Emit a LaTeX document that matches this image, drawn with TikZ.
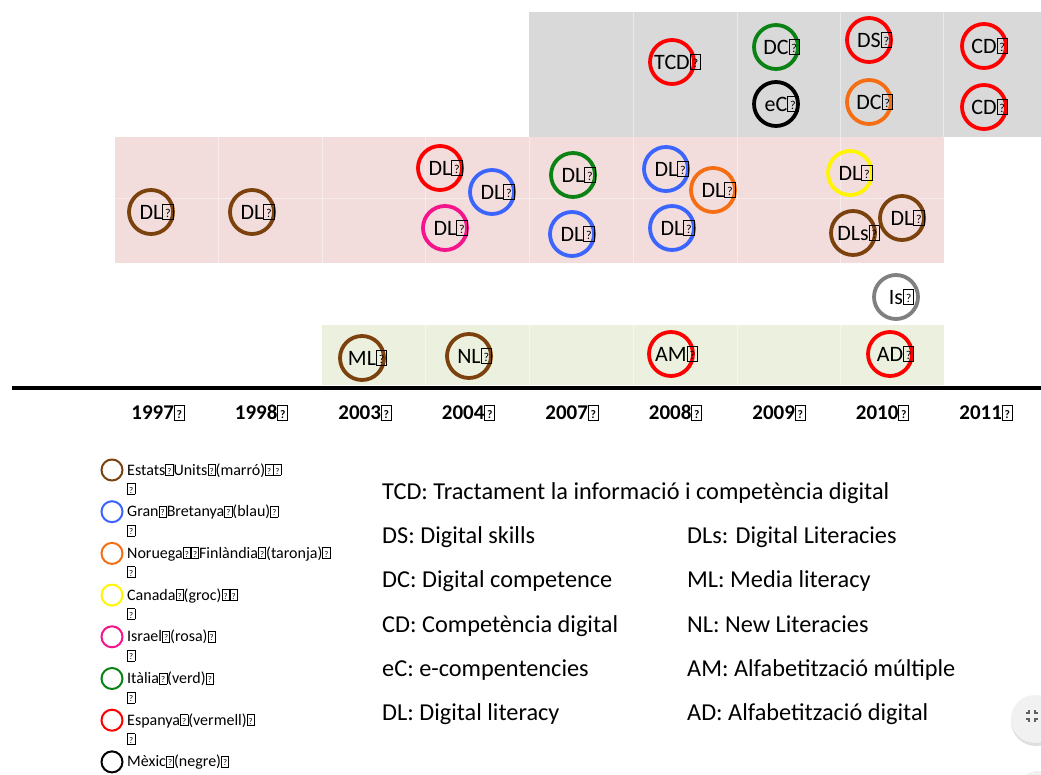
\documentclass[tikz,border=0pt]{standalone}
\usepackage{fontspec}
\setmainfont{Carlito}
\usepackage{graphicx}

% marker colours
\definecolor{cbrown}{RGB}{124,66,14}
\definecolor{cblue}{RGB}{60,100,255}
\definecolor{corange}{RGB}{245,110,20}
\definecolor{cyellow}{RGB}{255,245,0}
\definecolor{cpink}{RGB}{245,20,140}
\definecolor{cgreen}{RGB}{10,130,20}
\definecolor{cred}{RGB}{255,0,0}
\definecolor{cgray}{RGB}{128,128,128}
% band colours
\definecolor{bandgray}{RGB}{217,217,217}
\definecolor{bandpink}{RGB}{242,221,220}
\definecolor{bandgreen}{RGB}{235,241,222}
\definecolor{btnfill}{RGB}{241,241,241}
\definecolor{btnshade}{RGB}{222,222,222}

% small framed "?" glyph placeholder
\newcommand\qb{{\setlength\fboxsep{0pt}\setlength\fboxrule{0.045em}%
  \fbox{\makebox[0.42em]{\rule{0pt}{0.64em}\raisebox{0.06em}{\scalebox{0.55}{?}}}}}}

\tikzset{
  term/.style={circle, draw=#1, line width=3.8pt, minimum size=44pt,
    inner sep=0pt, font=\fontsize{22}{24}\selectfont},
  yearlbl/.style={inner sep=0pt, font=\fontsize{21}{24}\selectfont\bfseries},
  defn/.style={anchor=base west, inner sep=0pt, font=\fontsize{24.3}{28}\selectfont},
  legmark/.style={circle, draw=#1, line width=2pt, minimum size=21pt, inner sep=0pt},
  legtxt/.style={anchor=base west, inner sep=0pt, font=\fontsize{16}{18}\selectfont},
  gridline/.style={white, opacity=0.45, line width=1pt},
}

\begin{document}
\begin{tikzpicture}[x=1pt, y=-1pt]
\useasboundingbox (0,0) rectangle (1041,775);

% coloured period bands
\fill[bandgray]  (529,12)  rectangle (1041,137);
\fill[bandpink]  (115,137) rectangle (944,263);
\fill[bandgreen] (322,325) rectangle (944,385);

% faint column grid inside the bands
\foreach \x in {633,737,840,943} \draw[gridline] (\x,12) -- (\x,137);
\foreach \x in {218,322,425,529,633,737,840} \draw[gridline] (\x,137) -- (\x,263);
\draw[gridline] (115,199) -- (944,199);
\foreach \x in {425,529,633,737,840} \draw[gridline] (\x,325) -- (\x,385);

% time axis
\coordinate (axisL) at (12,388);
\coordinate (axisR) at (1041,388);
\draw[line width=4pt] (axisL) -- (axisR);

% year labels
\foreach \yr [count=\i from 0] in {1997,1998,2003,2004,2007,2008,2009,2010,2011}
  \node[yearlbl] (y\yr) at ({158+103.5*\i},413) {\yr\qb};

% upper band terms
\node[term=cred]    (tcd) at (672,62)  {TCD\rlap{\qb}};
\node[term=cgreen]  (dc1) at (776,47)  {DC\rlap{\qb}};
\node[term=black]   (ec)  at (776,104) {eC\rlap{\qb}};
\node[term=cred]    (ds)  at (869,40)  {DS\rlap{\qb}};
\node[term=corange] (dc2) at (869,102) {DC\rlap{\qb}};
\node[term=cred]    (cd1) at (984,46)  {CD\rlap{\qb}};
\node[term=cred]    (cd2) at (984,107) {CD\rlap{\qb}};

% middle band terms
\node[term=cbrown]  (dl97)  at (151,212) {DL\rlap{\qb}};
\node[term=cbrown]  (dl98)  at (252,212) {DL\rlap{\qb}};
\node[term=cred]    (dl04a) at (440,168) {DL\rlap{\qb}};
\node[term=cblue]   (dl04b) at (492,192) {DL\rlap{\qb}};
\node[term=cpink]   (dl04c) at (445,228) {DL\rlap{\qb}};
\node[term=cgreen]  (dl07a) at (573,175) {DL\rlap{\qb}};
\node[term=cblue]   (dl07b) at (572,234) {DL\rlap{\qb}};
\node[term=cblue]   (dl08a) at (666,169) {DL\rlap{\qb}};
\node[term=corange] (dl08b) at (713,190) {DL\rlap{\qb}};
\node[term=cblue]   (dl08c) at (672,228) {DL\rlap{\qb}};
\node[term=cyellow] (dl10a) at (850,173) {DL\rlap{\qb}};
\node[term=cbrown]  (dls)   at (853,233) {DLs\rlap{\qb}};
\node[term=cbrown]  (dl10b) at (902,218) {DL\rlap{\qb}};

% lower band terms
\node[term=cgray]   (is)  at (896,297) {Is\rlap{\qb}};
\node[term=cbrown]  (ml)  at (362,358) {ML\rlap{\qb}};
\node[term=cbrown]  (nl)  at (469,356) {NL\rlap{\qb}};
\node[term=cred]    (am)  at (671,354) {AM\rlap{\qb}};
\node[term=cred]    (ad)  at (890,354) {AD\rlap{\qb}};

% country legend
\foreach \c/\t [count=\i from 0] in {
    cbrown/{Estats\qb Units\qb(marró)\qb\qb},
    cblue/{Gran\qb Bretanya\qb(blau)\qb},
    corange/{Noruega\qb\qb Finlàndia\qb(taronja)\qb},
    cyellow/{Canada\qb(groc)\qb\qb},
    cpink/{Israel\qb(rosa)\qb},
    cgreen/{Itàlia\qb(verd)\qb},
    cred/{Espanya\qb(vermell)\qb},
    black/{Mèxic\qb(negre)\qb}} {
  \node[legmark=\c] (leg\i) at (112,{470+41.7*\i}) {};
  \node[legtxt] (legt\i) at (127,{475+41.7*\i}) {\t};
}
\foreach \i in {0,...,6}
  \node[legtxt] (legb\i) at (127,{494+41.7*\i}) {\qb};

% abbreviation key
\node[defn] (kTCD) at (382,499) {TCD: Tractament la informació i competència digital};
\node[defn] (kDS)  at (382,543) {DS: Digital skills};
\node[defn] (kDC)  at (382,587) {DC: Digital competence};
\node[defn] (kCD)  at (382,632) {CD: Competència digital};
\node[defn] (keC)  at (382,676) {eC: e-compentencies};
\node[defn] (kDL)  at (382,720) {DL: Digital literacy};
\node[defn] (kDLs) at (687,543) {DLs: Digital Literacies};
\node[defn] (kML)  at (687,587) {ML: Media literacy};
\node[defn] (kNL)  at (687,632) {NL: New Literacies};
\node[defn] (kAM)  at (687,676) {AM: Alfabetització múltiple};
\node[defn] (kAD)  at (687,720) {AD: Alfabetització digital};

% floating buttons at the lower right edge
\fill[btnshade] (1036,721) circle (25);
\fill[btnfill]  (1035,719) circle (24);
\fill[btnshade] (1040,796) circle (25);
\fill[btnfill]  (1040,795) circle (24);
\begin{scope}[gray!75!black, line width=1.4pt]
  \draw (1026,713) -- (1029,713) -- (1029,710);
  \draw (1035,710) -- (1035,713) -- (1038,713);
  \draw (1026,719) -- (1029,719) -- (1029,722);
  \draw (1035,722) -- (1035,719) -- (1038,719);
\end{scope}
\end{tikzpicture}
\end{document}
